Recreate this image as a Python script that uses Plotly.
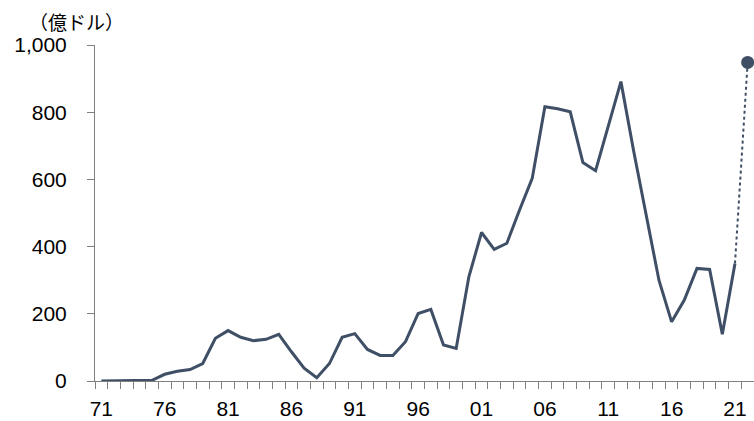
import plotly.graph_objects as go

years = list(range(1971, 2022))
values = [0, 0, 0, 1, 2, 20, 29, 34, 52, 127, 150, 130, 120, 124, 139,
          87, 38, 10, 52, 130, 141, 94, 76, 76, 117, 201, 213, 107, 97, 310,
          442, 392, 410, 509, 603, 816, 810, 801, 650, 626, 757, 891, 685, 487, 300,
          176, 241, 335, 332, 139, 350]
proj_years = [2021, 2022]
proj_values = [350, 948]
tick_years = [1971, 1976, 1981, 1986, 1991, 1996, 2001, 2006, 2011, 2016, 2021]
tick_labels = ["71", "76", "81", "86", "91", "96", "01", "06", "11", "16", "21"]
y_ticks = [0, 200, 400, 600, 800, 1000]
y_labels = ["0", "200", "400", "600", "800", "1,000"]

col = "#3f4f66"
fig = go.Figure()
fig.add_trace(go.Scatter(x=years, y=values, mode="lines",
                         line=dict(color=col, width=3), showlegend=False))
fig.add_trace(go.Scatter(x=proj_years, y=proj_values, mode="lines",
                         line=dict(color=col, width=2, dash="dot"), showlegend=False))
fig.add_trace(go.Scatter(x=proj_years[1:], y=proj_values[1:], mode="markers",
                         marker=dict(color=col, size=13), showlegend=False,
                         cliponaxis=False))

font = dict(family="Liberation Sans, Arial, sans-serif", size=21, color="#000000")
fig.update_layout(
    width=754, height=421,
    margin=dict(l=95, r=0, t=45, b=40),
    paper_bgcolor="white", plot_bgcolor="white",
    font=font,
    xaxis=dict(range=[1970.5, 2022.5], tickvals=tick_years, ticktext=tick_labels,
               ticks="", showgrid=False, zeroline=False,
               showline=True, linecolor="#808080", linewidth=1,
               tickfont=font, ticklabelstandoff=9,
               minor=dict(tick0=1970.5, dtick=1, ticks="outside", ticklen=7,
                          tickcolor="#808080", tickwidth=1, showgrid=False)),
    yaxis=dict(range=[0, 1000], tickvals=y_ticks, ticktext=y_labels,
               ticks="outside", ticklen=7, tickcolor="#808080", tickwidth=1,
               showgrid=False, zeroline=False,
               showline=True, linecolor="#808080", linewidth=1,
               tickfont=font, ticklabelstandoff=16),
)
fig.add_annotation(text="（億ドル）", xref="paper", yref="paper",
                   x=-95/659 + 27/659, y=1 + 24/336, xanchor="left", yanchor="middle",
                   showarrow=False,
                   font=dict(family="Noto Sans CJK JP, sans-serif", size=19, color="#000000"))
fig.write_html("out.html")
